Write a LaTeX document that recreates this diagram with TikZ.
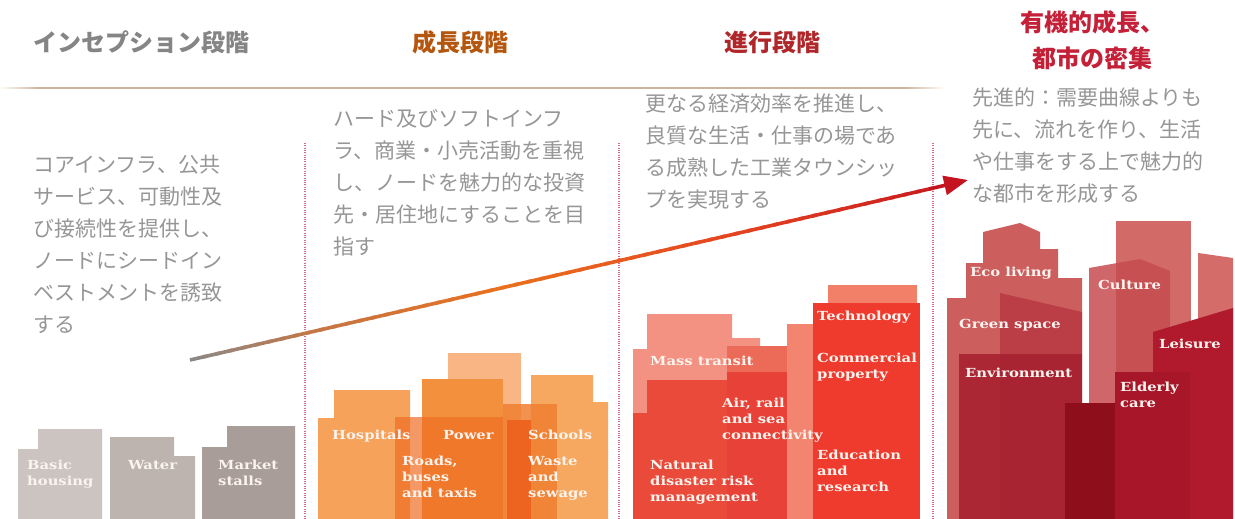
\documentclass[tikz,border=0pt]{standalone}
\usepackage{fontspec}
\usetikzlibrary{arrows.meta,calc}
\newfontfamily\jpfont{Noto Sans CJK JP}
\newfontfamily\slabfont[FakeStretch=1.18]{DejaVu Serif}

% text colours
\definecolor{headgray}{HTML}{858585}
\definecolor{headorange}{HTML}{B5560F}
\definecolor{headred}{HTML}{B0272B}
\definecolor{headcrimson}{HTML}{C42038}
\definecolor{bodygray}{HTML}{969696}
\definecolor{lblwhite}{HTML}{FBF3EE}
\definecolor{linetan}{HTML}{CDB49C}
\definecolor{divpink}{HTML}{D36A8A}
% arrow colour stops
\definecolor{arA}{RGB}{140,136,134}
\definecolor{arB}{RGB}{196,118,70}
\definecolor{arC}{RGB}{234,112,30}
\definecolor{arD}{RGB}{228,66,32}
\definecolor{arE}{RGB}{196,20,32}

\begin{document}
\begin{tikzpicture}[x=1pt,y=-1pt,
  headtext/.style={font=\jpfont\bfseries\fontsize{24}{36}\selectfont, inner sep=0},
  bodytext/.style={font=\jpfont\fontsize{21}{32}\selectfont, text=bodygray,
    align=left, inner sep=0, anchor=north west},
  lbl/.style={font=\slabfont\bfseries\fontsize{12.5}{16}\selectfont, text=lblwhite,
    align=left, inner sep=0, anchor=north west},
  divider/.style={draw=divpink, line width=1.4pt, dash pattern=on 1pt off 1.3pt},
]
\useasboundingbox (0,0) rectangle (1235,519);
\fill[white] (0,0) rectangle (1235,519);

% ---- headings ----
\node[headtext, text=headgray, anchor=west] (h1) at (33,42) {インセプション段階};
\node[headtext, text=headorange] (h2) at (460,42) {成長段階};
\node[headtext, text=headred] (h3) at (772,42) {進行段階};
\node[headtext, text=headcrimson, align=center] (h4) at (1092,40) {有機的成長、\\都市の密集};

% rule under the headings, fading at both ends
\foreach \k in {0,...,19}{
  \fill[color=linetan!\the\numexpr(\k+1)*5\relax!white] ({2*\k},87.2) rectangle ({2*\k+2},88.8);
  \fill[color=linetan!\the\numexpr(\k+1)*5\relax!white] ({945-2*\k-2},87.2) rectangle ({945-2*\k},88.8);
}
\fill[linetan] (40,87.2) rectangle (905,88.8);

% ---- stage dividers ----
\foreach \xx/\nm in {305/dA,619/dB,933/dC}{
  \coordinate (\nm top) at (\xx,143);
  \coordinate (\nm bot) at (\xx,519);
  \draw[divider] (\nm top) -- (\nm bot);
}

% ---- descriptions ----
\node[bodytext] (t1) at (33,155) {コアインフラ、公共\\サービス、可動性及\\び接続性を提供し、\\ノードにシードイン\\ベストメントを誘致\\する};
\node[bodytext] (t2) at (333,109) {ハード及びソフトインフ\\ラ、商業・小売活動を重視\\し、ノードを魅力的な投資\\先・居住地にすることを目\\指す};
\node[bodytext] (t3) at (645,94) {更なる経済効率を推進し、\\良質な生活・仕事の場であ\\る成熟した工業タウンシッ\\プを実現する};
\node[bodytext] (t4) at (972,88) {先進的：需要曲線よりも\\先に、流れを作り、生活\\や仕事をする上で魅力的\\な都市を形成する};

% ---- stage 1 buildings ----
\fill[color={rgb,255:red,203;green,196;blue,193}] (18,519)--(18,449)--(38,449)--(38,429)--(102,429)--(102,519)--cycle;
\fill[color={rgb,255:red,189;green,179;blue,175}] (110,519)--(110,437)--(174,437)--(174,456)--(195,456)--(195,519)--cycle;
\fill[color={rgb,255:red,169;green,157;blue,154}] (202,519)--(202,447)--(227,447)--(227,426)--(295,426)--(295,519)--cycle;
\node[lbl] (l1) at (27,460) {Basic\\housing};
\node[lbl] (l2) at (128,460) {Water};
\node[lbl] (l3) at (218,460) {Market\\stalls};

% ---- stage 2 buildings ----
\fill[color={rgb,255:red,249;green,181;blue,131}] (448,353) rectangle (521,519);
\fill[color={rgb,255:red,246;green,162;blue,90}] (318,519)--(318,418)--(334,418)--(334,390)--(410,390)--(410,519)--cycle;
\fill[color={rgb,255:red,247;green,168;blue,96}] (531,519)--(531,375)--(593,375)--(593,402)--(608,402)--(608,519)--cycle;
\fill[color={rgb,255:red,243;green,144;blue,62}] (422,379) rectangle (503,519);
\fill[color={rgb,255:red,240;green,110;blue,36}, fill opacity=0.7] (395,417) rectangle (503,519);
\fill[color={rgb,255:red,240;green,128;blue,48}, fill opacity=0.85] (503,404) rectangle (557,519);
\fill[color={rgb,255:red,236;green,100;blue,32}] (507,420) rectangle (531,519);
\node[lbl] (l4) at (332,430) {Hospitals};
\node[lbl] (l5) at (443,430) {Power};
\node[lbl] (l6) at (528,430) {Schools};
\node[lbl] (l7) at (402,456) {Roads,\\buses\\and taxis};
\node[lbl] (l8) at (528,456) {Waste\\and\\sewage};

% ---- stage 3 buildings ----
\fill[color={rgb,255:red,243;green,146;blue,130}] (633,519)--(633,349)--(647,349)--(647,314)--(732,314)--(732,338)--(760,338)--(760,519)--cycle;
\fill[color={rgb,255:red,242;green,132;blue,112}] (787,324) rectangle (813,519);
\fill[color={rgb,255:red,242;green,128;blue,104}] (828,285) rectangle (917,310);
\fill[color={rgb,255:red,234;green,74;blue,58}] (633,519)--(633,413)--(647,413)--(647,380)--(727,380)--(727,519)--cycle;
\fill[color={rgb,255:red,236;green,106;blue,88}] (727,346) rectangle (787,372);
\fill[color={rgb,255:red,232;green,66;blue,56}] (727,372) rectangle (787,519);
\fill[color={rgb,255:red,238;green,59;blue,46}] (813,303) rectangle (920,519);
\node[lbl] (l9) at (650,356) {Mass transit};
\node[lbl] (l10) at (817,311) {Technology};
\node[lbl] (l11) at (817,353) {Commercial\\property};
\node[lbl] (l12) at (722,398) {Air, rail\\and sea\\connectivity};
\node[lbl] (l13) at (650,460) {Natural\\disaster risk\\management};
\node[lbl] (l14) at (817,450) {Education\\and\\research};

% ---- stage 4 buildings ----
\fill[color={rgb,255:red,210;green,106;blue,104}] (1116,221) rectangle (1191,519);
\fill[color={rgb,255:red,212;green,108;blue,106}] (1198,519)--(1198,253)--(1233,258)--(1233,519)--cycle;
\fill[color={rgb,255:red,205;green,94;blue,94}] (947,519)--(947,298)--(966,298)--(966,263)--(983,263)--(983,232)--(1020,223)--(1040,232)--(1040,249)--(1058,249)--(1058,278)--(1082,278)--(1082,519)--cycle;
\fill[color={rgb,255:red,198;green,76;blue,80}, fill opacity=0.85] (1089,519)--(1089,268)--(1140,259)--(1170,271)--(1170,519)--cycle;
\fill[color={rgb,255:red,184;green,56;blue,66}, fill opacity=0.85] (1000,519)--(1000,293)--(1082,312)--(1082,519)--cycle;
\fill[color={rgb,255:red,168;green,34;blue,48}, fill opacity=0.9] (959,354) rectangle (1082,519);
\fill[color={rgb,255:red,176;green,26;blue,44}] (1153,519)--(1153,332)--(1233,308)--(1233,519)--cycle;
\fill[color={rgb,255:red,168;green,22;blue,42}] (1115,372) rectangle (1190,519);
\fill[color={rgb,255:red,142;green,14;blue,28}] (1065,403) rectangle (1115,519);
\node[lbl] (l15) at (970,267) {Eco living};
\node[lbl] (l16) at (959,319) {Green space};
\node[lbl] (l17) at (965,368) {Environment};
\node[lbl] (l18) at (1098,280) {Culture};
\node[lbl] (l19) at (1159,339) {Leisure};
\node[lbl] (l20) at (1120,382) {Elderly\\care};

% ---- growth arrow: colour runs from grey through orange to red ----
\coordinate (arrowtail) at (190,360);
\coordinate (arrowtip) at (968,180);
\foreach \i in {0,...,56}{
  \pgfmathsetmacro\ta{\i/60}
  \pgfmathsetmacro\tb{(\i+1.3)/60}
  \ifdim\ta pt<0.15pt
    \pgfmathsetmacro\p{\ta/0.15*100}\colorlet{segc}{arB!\p!arA}
  \else\ifdim\ta pt<0.4pt
    \pgfmathsetmacro\p{(\ta-0.15)/0.25*100}\colorlet{segc}{arC!\p!arB}
  \else\ifdim\ta pt<0.7pt
    \pgfmathsetmacro\p{(\ta-0.4)/0.3*100}\colorlet{segc}{arD!\p!arC}
  \else
    \pgfmathsetmacro\p{(\ta-0.7)/0.3*100}\colorlet{segc}{arE!\p!arD}
  \fi\fi\fi
  \draw[segc, line width=3.6pt] ($(arrowtail)!\ta!(arrowtip)$) -- ($(arrowtail)!\tb!(arrowtip)$);
}
\draw[arE, line width=3.6pt, -{Triangle[length=24pt,width=19pt]}]
  ($(arrowtail)!0.95!(arrowtip)$) -- (arrowtip);
\end{tikzpicture}
\end{document}
